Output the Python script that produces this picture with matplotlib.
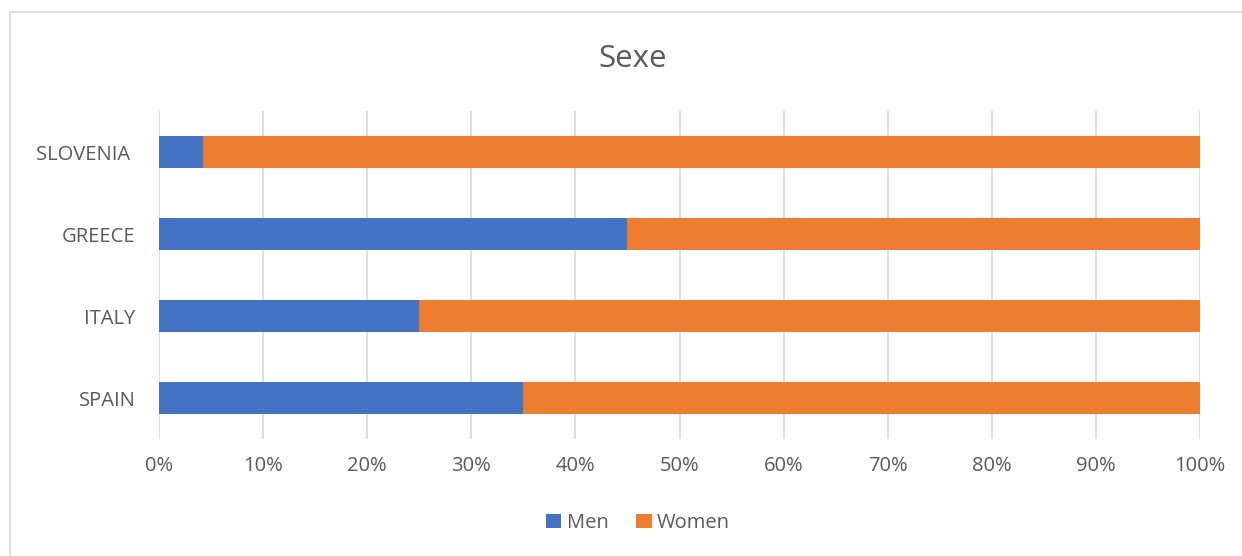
import matplotlib.pyplot as plt
from matplotlib.patches import Rectangle
from matplotlib.ticker import PercentFormatter

countries = ['SPAIN', 'ITALY', 'GREECE', 'SLOVENIA ']
men = [35, 25, 45, 4.2]
women = [65, 75, 55, 95.8]

blue = '#4472C4'
orange = '#ED7D31'
text_grey = '#595959'

plt.rcParams['font.family'] = ['Open Sans', 'DejaVu Sans']

fig = plt.figure(figsize=(12.42, 5.56), dpi=100)
ax = fig.add_axes([159 / 1242, 117 / 556, 1041 / 1242, 328 / 556])

y = range(len(countries))
ax.barh(y, men, height=0.39, color=blue, label='Men')
ax.barh(y, women, left=men, height=0.39, color=orange, label='Women')

ax.set_xlim(0, 100)
ax.set_ylim(-0.5, len(countries) - 0.5)
ax.set_xticks(range(0, 101, 10))
ax.xaxis.set_major_formatter(PercentFormatter(decimals=0))
ax.set_yticks(list(y))
ax.set_yticklabels(countries)
ax.tick_params(length=0, labelsize=14.5, labelcolor=text_grey)
ax.tick_params(axis='x', pad=12)
ax.tick_params(axis='y', pad=17)

ax.grid(axis='x', color='#d9d9d9', linewidth=1.2)
ax.set_axisbelow(True)
for s in ax.spines.values():
    s.set_visible(False)

fig.text(633 / 1242, 1 - 59 / 556, 'Sexe', ha='center', va='center', fontsize=22.5, color=text_grey)

fig.legend(loc='center', bbox_to_anchor=(638 / 1242, 1 - 523 / 556), ncol=2, frameon=False,
           fontsize=14.5, labelcolor=text_grey, handlelength=0.75, handleheight=0.75,
           handletextpad=0.25, columnspacing=1.4)

# light frame around the chart area
fig.patches.append(Rectangle((10 / 1242, -0.01), 1.0, 1 - 12 / 556 + 0.01,
                             transform=fig.transFigure, fill=False,
                             edgecolor='#d9d9d9', linewidth=1.2))

fig.savefig('out.png', dpi=100)
